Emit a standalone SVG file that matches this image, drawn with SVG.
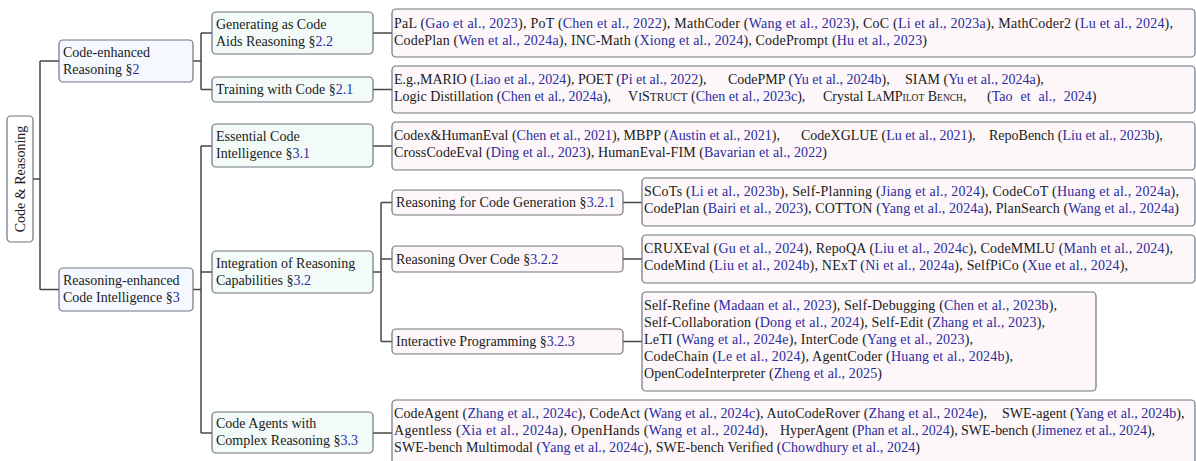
<svg xmlns="http://www.w3.org/2000/svg" width="1196" height="461" viewBox="0 0 1196 461">
<style>
text{font-family:"Liberation Serif","Times New Roman",serif;font-size:14px;fill:#1a1a1a;white-space:pre}
.c{fill:#2b2ba0}
.s{font-size:11.5px}
.s2{font-size:9.5px}
rect{stroke:#6e7480;stroke-width:1.2}
rect.bg{stroke:none;fill:#ffffff}
.root{fill:#ffffff}
.l1{fill:#f5f9ff}
.l2{fill:#f2fbf8}
.lf{fill:#fdf7f9}
.conn path{fill:none;stroke:#474747;stroke-width:1.5}
</style>
<rect class="bg" width="1196" height="461"/>
<g class="conn" id="connectors">
<path d="M33 179H40M40 61V289.5M40 61H59M40 289.5H59"/>
<path d="M193 61H201M201 33V89.5M201 33H212M201 89.5H212"/>
<path d="M193 289.5H201M201 146V433M201 146H212M201 272H212M201 433H212"/>
<path d="M373 33H392M373 89.5H392M373 146H392M373 433H392"/>
<path d="M373 272H381M381 202.5V341.5M381 202.5H392M381 259H392M381 341.5H392"/>
<path d="M623 202.5H642M623 259H642M623 341.5H642"/>
</g>
<g id="root">
<rect class="root" x="7" y="116" width="26" height="126" rx="4"/>
<text transform="translate(25 179) rotate(-90)" text-anchor="middle">Code &amp; Reasoning</text>
</g>
<g id="code-enhanced">
<rect class="l1" x="59" y="40" width="134" height="42" rx="4"/>
<text x="63" y="56.5">Code-enhanced</text>
<text x="63" y="73.5">Reasoning §<tspan class="c">2</tspan></text>
</g>
<g id="reasoning-enhanced">
<rect class="l1" x="59" y="268" width="134" height="43" rx="4"/>
<text x="63" y="284.5">Reasoning-enhanced</text>
<text x="63" y="301.5">Code Intelligence §<tspan class="c">3</tspan></text>
</g>
<g id="generating">
<rect class="l2" x="212" y="12" width="161" height="42" rx="4"/>
<text x="216" y="28.5">Generating as Code</text>
<text x="216" y="45.5">Aids Reasoning §<tspan class="c">2.2</tspan></text>
</g>
<g id="training">
<rect class="l2" x="212" y="77" width="161" height="25" rx="4"/>
<text x="216" y="94">Training with Code §<tspan class="c">2.1</tspan></text>
</g>
<g id="essential">
<rect class="l2" x="212" y="124" width="161" height="43" rx="4"/>
<text x="216" y="140.5">Essential Code</text>
<text x="216" y="157.5">Intelligence §<tspan class="c">3.1</tspan></text>
</g>
<g id="integration">
<rect class="l2" x="212" y="251" width="161" height="42" rx="4"/>
<text x="216" y="267.5">Integration of Reasoning</text>
<text x="216" y="284.5">Capabilities §<tspan class="c">3.2</tspan></text>
</g>
<g id="agents">
<rect class="l2" x="212" y="412" width="161" height="41" rx="4"/>
<text x="216" y="428">Code Agents with</text>
<text x="216" y="445">Complex Reasoning §<tspan class="c">3.3</tspan></text>
</g>
<g id="rcg">
<rect class="lf" x="392" y="190" width="231" height="25" rx="4"/>
<text x="396" y="207" textLength="219">Reasoning for Code Generation §<tspan class="c">3.2.1</tspan></text>
</g>
<g id="roc">
<rect class="lf" x="392" y="246" width="231" height="26" rx="4"/>
<text x="396" y="263.5">Reasoning Over Code §<tspan class="c">3.2.2</tspan></text>
</g>
<g id="interactive">
<rect class="lf" x="392" y="329" width="231" height="25" rx="4"/>
<text x="396" y="346">Interactive Programming §<tspan class="c">3.2.3</tspan></text>
</g>
<g id="leaf-generating">
<rect class="lf" x="392" y="9" width="803" height="48" rx="4"/>
<text x="394" y="27.5" textLength="779">PaL (<tspan class="c">Gao et al., 2023</tspan>), PoT (<tspan class="c">Chen et al., 2022</tspan>), MathCoder (<tspan class="c">Wang et al., 2023</tspan>), CoC (<tspan class="c">Li et al., 2023a</tspan>), MathCoder2 (<tspan class="c">Lu et al., 2024</tspan>),</text>
<text x="394" y="44.5" textLength="533">CodePlan (<tspan class="c">Wen et al., 2024a</tspan>), INC-Math (<tspan class="c">Xiong et al., 2024</tspan>), CodePrompt (<tspan class="c">Hu et al., 2023</tspan>)</text>
</g>
<g id="leaf-training">
<rect class="lf" x="392" y="66" width="803" height="47" rx="4"/>
<text x="394" y="83.5">E.g.,MARIO (<tspan class="c">Liao et al., 2024</tspan>), POET (<tspan class="c">Pi et al., 2022</tspan>),</text>
<text x="728" y="83.5">CodePMP (<tspan class="c">Yu et al., 2024b</tspan>),</text>
<text x="905" y="83.5">SIAM (<tspan class="c">Yu et al., 2024a</tspan>),</text>
<text x="394" y="100.5">Logic Distillation (<tspan class="c">Chen et al., 2024a</tspan>),</text>
<text x="628" y="100.5">V<tspan class="s">I</tspan>S<tspan class="s">TRUCT</tspan> (<tspan class="c">Chen et al., 2023c</tspan>),</text>
<text x="823" y="100.5">Crystal L<tspan class="s2">A</tspan>MP<tspan class="s2">ILOT</tspan> B<tspan class="s2">ENCH</tspan>,</text>
<text x="987" y="100.5" style="word-spacing:4.5px">(<tspan class="c">Tao et al., 2024</tspan>)</text>
</g>
<g id="leaf-essential">
<rect class="lf" x="392" y="122" width="803" height="48" rx="4"/>
<text x="394" y="139.5" textLength="386">Codex&amp;HumanEval (<tspan class="c">Chen et al., 2021</tspan>), MBPP (<tspan class="c">Austin et al., 2021</tspan>),</text>
<text x="801" y="139.5">CodeXGLUE (<tspan class="c">Lu et al., 2021</tspan>),</text>
<text x="989" y="139.5">RepoBench (<tspan class="c">Liu et al., 2023b</tspan>),</text>
<text x="394" y="156.5" textLength="433">CrossCodeEval (<tspan class="c">Ding et al., 2023</tspan>), HumanEval-FIM (<tspan class="c">Bavarian et al., 2022</tspan>)</text>
</g>
<g id="leaf-rcg">
<rect class="lf" x="642" y="178" width="553" height="48" rx="4"/>
<text x="644" y="196" textLength="535">SCoTs (<tspan class="c">Li et al., 2023b</tspan>), Self-Planning (<tspan class="c">Jiang et al., 2024</tspan>), CodeCoT (<tspan class="c">Huang et al., 2024a</tspan>),</text>
<text x="644" y="213" textLength="535">CodePlan (<tspan class="c">Bairi et al., 2023</tspan>), COTTON (<tspan class="c">Yang et al., 2024a</tspan>), PlanSearch (<tspan class="c">Wang et al., 2024a</tspan>)</text>
</g>
<g id="leaf-roc">
<rect class="lf" x="642" y="235" width="553" height="48" rx="4"/>
<text x="644" y="253" textLength="529">CRUXEval (<tspan class="c">Gu et al., 2024</tspan>), RepoQA (<tspan class="c">Liu et al., 2024c</tspan>), CodeMMLU (<tspan class="c">Manh et al., 2024</tspan>),</text>
<text x="644" y="270" textLength="484">CodeMind (<tspan class="c">Liu et al., 2024b</tspan>), NExT (<tspan class="c">Ni et al., 2024a</tspan>), SelfPiCo (<tspan class="c">Xue et al., 2024</tspan>),</text>
</g>
<g id="leaf-interactive">
<rect class="lf" x="642" y="292" width="454" height="99" rx="4"/>
<text x="644" y="310" textLength="413">Self-Refine (<tspan class="c">Madaan et al., 2023</tspan>), Self-Debugging (<tspan class="c">Chen et al., 2023b</tspan>),</text>
<text x="644" y="327" textLength="401">Self-Collaboration (<tspan class="c">Dong et al., 2024</tspan>), Self-Edit (<tspan class="c">Zhang et al., 2023</tspan>),</text>
<text x="644" y="344" textLength="329">LeTI (<tspan class="c">Wang et al., 2024e</tspan>), InterCode (<tspan class="c">Yang et al., 2023</tspan>),</text>
<text x="644" y="361" textLength="369">CodeChain (<tspan class="c">Le et al., 2024</tspan>), AgentCoder (<tspan class="c">Huang et al., 2024b</tspan>),</text>
<text x="644" y="378" textLength="238">OpenCodeInterpreter (<tspan class="c">Zheng et al., 2025</tspan>)</text>
</g>
<g id="leaf-agents">
<rect class="lf" x="392" y="400" width="803" height="66" rx="4"/>
<text x="394" y="418" textLength="593">CodeAgent (<tspan class="c">Zhang et al., 2024c</tspan>), CodeAct (<tspan class="c">Wang et al., 2024c</tspan>), AutoCodeRover (<tspan class="c">Zhang et al., 2024e</tspan>),</text>
<text x="1002" y="418">SWE-agent (<tspan class="c">Yang et al., 2024b</tspan>),</text>
<text x="394" y="435" textLength="374">Agentless (<tspan class="c">Xia et al., 2024a</tspan>), OpenHands (<tspan class="c">Wang et al., 2024d</tspan>),</text>
<text x="780" y="435" textLength="375">HyperAgent (<tspan class="c">Phan et al., 2024</tspan>), SWE-bench (<tspan class="c">Jimenez et al., 2024</tspan>),</text>
<text x="394" y="452" textLength="526">SWE-bench Multimodal (<tspan class="c">Yang et al., 2024c</tspan>), SWE-bench Verified (<tspan class="c">Chowdhury et al., 2024</tspan>)</text>
</g>
</svg>
